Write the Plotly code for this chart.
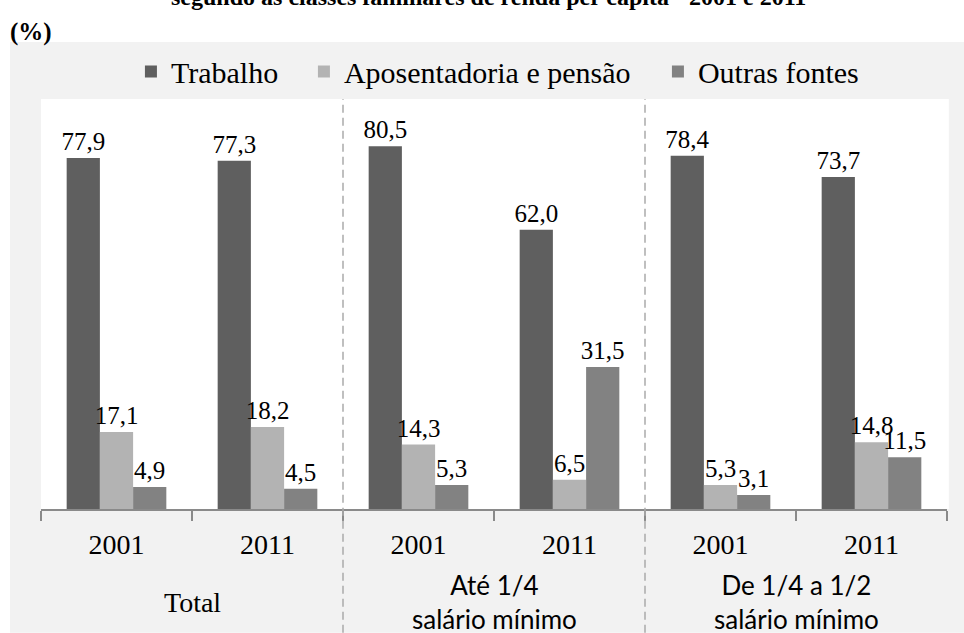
import plotly.graph_objects as go

# Income composition by source, per family income class
groups = ["Total", "Total",
          "Até 1/4<br>salário mínimo", "Até 1/4<br>salário mínimo",
          "De 1/4 a 1/2<br>salário mínimo", "De 1/4 a 1/2<br>salário mínimo"]
years = ["2001", "2011", "2001", "2011", "2001", "2011"]

trabalho = [77.9, 77.3, 80.5, 62.0, 78.4, 73.7]
aposentadoria = [17.1, 18.2, 14.3, 6.5, 5.3, 14.8]
outras = [4.9, 4.5, 5.3, 31.5, 3.1, 11.5]

series_names = ["Trabalho", "Aposentadoria e pensão", "Outras fontes"]
series_colors = ["#5f5f5f", "#b3b3b3", "#828282"]
legend_widths = [128, 309, 165]

categories = [f"{g}|{y}" for g, y in zip(groups, years)]

SERIF = "Liberation Serif"
SANS = "Lato"

fig = go.Figure()
for name, vals, color, lw in zip(series_names, [trabalho, aposentadoria, outras],
                                 series_colors, legend_widths):
    fig.add_trace(go.Bar(
        x=categories, y=vals, name=name,
        marker=dict(color=color, line=dict(width=0)),
        texttemplate="%{y:.1f}", textposition="outside",
        textfont=dict(family=SERIF, size=25, color="#000000"),
        cliponaxis=False, constraintext="none",
        legendwidth=lw,
    ))

# chart-area background: grey frame with a white plotting region
shapes = [
    dict(type="rect", xref="paper", yref="paper", x0=-0.0342, x1=1.0188,
         y0=-0.302, y1=1.139, fillcolor="#f2f2f2", line=dict(width=0), layer="below"),
    dict(type="rect", xref="paper", yref="paper", x0=0, x1=1.002,
         y0=0, y1=1, fillcolor="#ffffff", line=dict(width=0), layer="below"),
]
# dashed separators between the income classes
for xb in [1.5, 3.5]:
    shapes.append(dict(type="line", xref="x", yref="paper", x0=xb, x1=xb,
                       y0=-0.302, y1=1,
                       line=dict(color="#ababab", width=1.5, dash="8px,5px")))

annotations = []
# income class labels under the year ticks
seen = []
for g in groups:
    if g in seen:
        continue
    seen.append(g)
    idx = [j for j, gg in enumerate(groups) if gg == g]
    center = sum(idx) / len(idx)
    if g == "Total":
        annotations.append(dict(x=center, y=-0.227, xref="x", yref="paper",
                                text=g, showarrow=False, yanchor="middle",
                                font=dict(family=SERIF, size=28, color="#000000")))
    else:
        annotations.append(dict(x=center, y=-0.226, xref="x", yref="paper",
                                text=g, showarrow=False, yanchor="middle",
                                font=dict(family=SANS, size=26, color="#000000")))

annotations.append(dict(x=-0.0364, y=1.163, xref="paper", yref="paper",
                        text="<b>(%)</b>", showarrow=False,
                        xanchor="left", yanchor="middle",
                        font=dict(family=SERIF, size=25, color="#000000")))
annotations.append(dict(x=0.494, y=1.212, xref="paper", yref="paper",
                        text="<b>segundo as classes familiares de renda per capita - 2001 e 2011</b>",
                        showarrow=False, xanchor="center", yanchor="bottom",
                        font=dict(family=SERIF, size=24, color="#000000")))

fig.update_layout(
    width=964, height=633,
    margin=dict(l=41, r=17, t=99, b=124),
    paper_bgcolor="#ffffff", plot_bgcolor="#ffffff",
    font=dict(family=SERIF, color="#000000"),
    barmode="group", bargap=0.34, bargroupgap=0,
    separators=",.",
    showlegend=True,
    legend=dict(orientation="h", x=0.506, xanchor="center", y=1.067, yanchor="middle",
                font=dict(family=SERIF, size=30, color="#000000"),
                bgcolor="rgba(0,0,0,0)", traceorder="normal"),
    xaxis=dict(type="category", tickmode="array", tickvals=categories, ticktext=years,
               tickson="boundaries", ticks="outside", ticklen=10, tickwidth=1.5,
               tickcolor="#8a8a8a", showline=True, linecolor="#8a8a8a", linewidth=2,
               showgrid=False, ticklabelstandoff=9,
               tickfont=dict(family=SERIF, size=28, color="#000000")),
    yaxis=dict(range=[0, 91], visible=False, showgrid=False, zeroline=False),
    shapes=shapes, annotations=annotations,
)

fig.write_html("out.html")
